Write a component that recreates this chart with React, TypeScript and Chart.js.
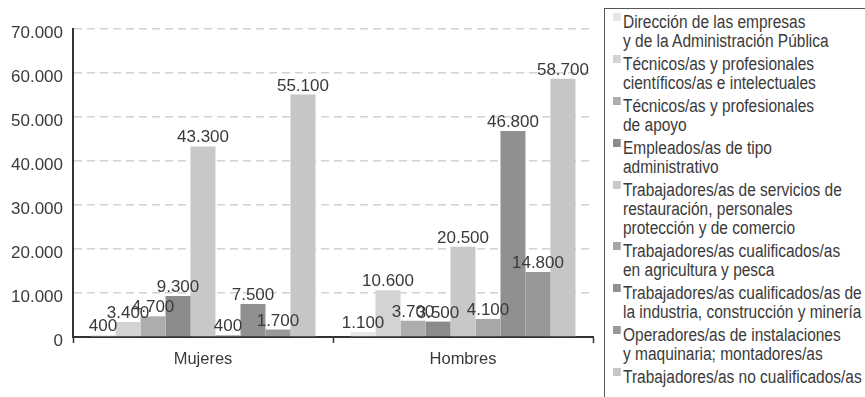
import React, { useEffect, useRef } from "react";
import { Chart, registerables } from "chart.js";

Chart.register(...registerables);

const categories = ["Mujeres", "Hombres"];
const seriesNames = [
  "Dirección de las empresas\ny de la Administración Pública",
  "Técnicos/as y profesionales\ncientíficos/as e intelectuales",
  "Técnicos/as y profesionales\nde apoyo",
  "Empleados/as de tipo\nadministrativo",
  "Trabajadores/as de servicios de\nrestauración, personales\nprotección y de comercio",
  "Trabajadores/as cualificados/as\nen agricultura y pesca",
  "Trabajadores/as cualificados/as de\nla industria, construcción y minería",
  "Operadores/as de instalaciones\ny maquinaria; montadores/as",
  "Trabajadores/as no cualificados/as",
];
const mujeres = [400, 3400, 4700, 9300, 43300, 400, 7500, 1700, 55100];
const hombres = [1100, 10600, 3700, 3500, 20500, 4100, 46800, 14800, 58700];
const seriesColors = [
  "#e6e6e6",
  "#d3d3d5",
  "#adadb0",
  "#8b8b8e",
  "#c8c8ca",
  "#a7a7aa",
  "#909093",
  "#98989b",
  "#c6c6c8",
];
const yMin = 0;
const yMax = 70000;
const yStep = 10000;

const fmt = (v: number) =>
  String(Math.round(v)).replace(/\B(?=(\d{3})+(?!\d))/g, ".");

const FONT = "'Liberation Sans', Arial, sans-serif";

const valueLabels = {
  id: "valueLabels",
  afterDatasetsDraw(chart: any) {
    const ctx = chart.ctx;
    ctx.save();
    ctx.font = `17px ${FONT}`;
    ctx.fillStyle = "#3a3a3a";
    ctx.textAlign = "center";
    ctx.textBaseline = "alphabetic";
    chart.data.datasets.forEach((ds: any, i: number) => {
      const meta = chart.getDatasetMeta(i);
      meta.data.forEach((el: any, j: number) => {
        ctx.fillText(fmt(ds.data[j]), el.x, el.y - 4);
      });
    });
    ctx.restore();
  },
};

const SX = 0.86;

export default function App() {
  const ref = useRef<HTMLCanvasElement>(null);

  useEffect(() => {
    if (!ref.current) return;
    const datasets = seriesNames.map((name, i) => ({
      label: name,
      data: [mujeres[i], hombres[i]],
      backgroundColor: seriesColors[i],
      borderWidth: 0,
      categoryPercentage: 0.865,
      barPercentage: 1,
    }));
    const chart = new Chart(ref.current, {
      type: "bar",
      data: { labels: categories, datasets },
      options: {
        animation: false,
        responsive: false,
        maintainAspectRatio: false,
        layout: { padding: { top: 29, right: 7, left: 0, bottom: 0 } },
        plugins: {
          legend: { display: false },
          tooltip: { enabled: false },
        },
        scales: {
          x: {
            grid: {
              display: true,
              drawOnChartArea: false,
              drawTicks: true,
              tickLength: 6,
              tickColor: "#333",
              tickWidth: 1.5,
              offset: true,
            },
            border: { display: true, color: "#333", width: 2 },
            ticks: {
              color: "#3a3a3a",
              font: { family: FONT, size: 16.5 },
              padding: 7,
            },
            afterFit: (s: any) => {
              s.height = 60;
            },
          },
          y: {
            min: yMin,
            max: yMax,
            ticks: {
              stepSize: yStep,
              color: "#3a3a3a",
              font: { family: FONT, size: 17 },
              padding: 10,
              labelOffset: 4,
              callback: (v: any) => fmt(Number(v)),
            },
            grid: {
              drawTicks: false,
              lineWidth: 1.5,
              color: (c: any) => (c.tick && c.tick.value === 0 ? "rgba(0,0,0,0)" : "#d2d2d2"),
            },
            border: { display: true, color: "#333", width: 2, dash: [8, 5] },
            afterFit: (s: any) => {
              s.width = 73;
            },
          },
        },
      },
      plugins: [valueLabels],
    });
    return () => chart.destroy();
  }, []);

  return (
    <div
      style={{
        position: "absolute",
        left: 0,
        top: 0,
        width: 865,
        height: 397,
        overflow: "hidden",
        background: "#fff",
      }}
    >
      <canvas
        ref={ref}
        width={600}
        height={397}
        style={{ position: "absolute", left: 0, top: 0, width: 600, height: 397 }}
      />
      <div
        style={{
          position: "absolute",
          left: 604,
          top: 8,
          width: 300,
          height: 420,
          border: "1px solid #555",
          boxSizing: "border-box",
          padding: "4px 0 0 8px",
        }}
      >
        <div
          style={{
            transform: `scaleX(${SX})`,
            transformOrigin: "left top",
            fontFamily: FONT,
            fontSize: 18,
            lineHeight: "19px",
            color: "#3a3a3a",
            whiteSpace: "pre",
          }}
        >
          {seriesNames.map((n, i) => (
            <div key={i} style={{ position: "relative", paddingLeft: 10 / SX, marginBottom: 4 }}>
              <span
                style={{
                  position: "absolute",
                  left: 0,
                  top: 0,
                  width: 8 / SX,
                  height: 8,
                  background: seriesColors[i],
                }}
              />
              {n}
            </div>
          ))}
        </div>
      </div>
    </div>
  );
}
